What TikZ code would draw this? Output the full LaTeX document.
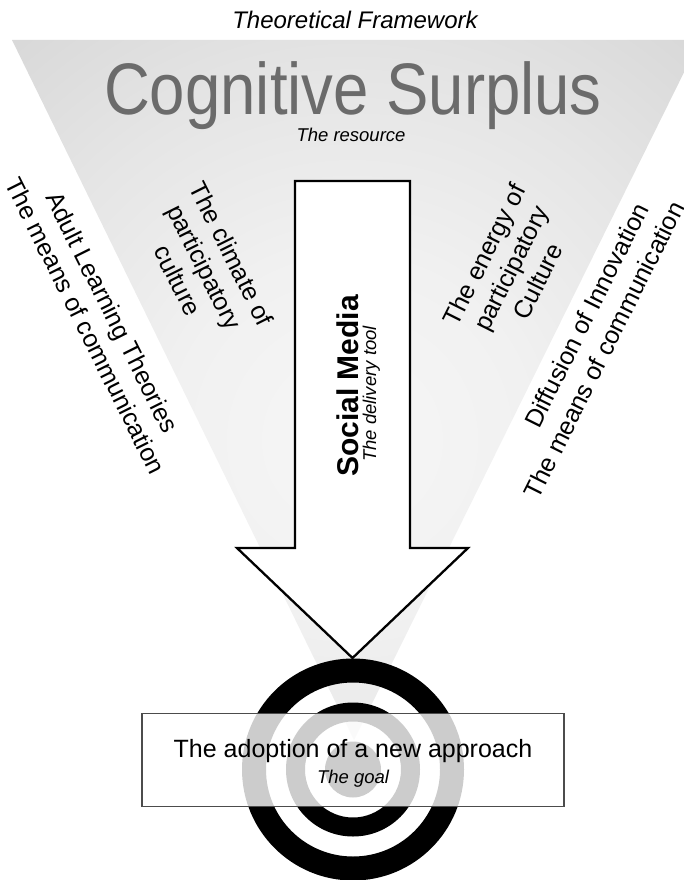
\documentclass[tikz,border=0pt]{standalone}
\usepackage{fontspec}
\setmainfont{Liberation Sans}
\definecolor{fs0}{gray}{0.965}
\definecolor{fs1}{gray}{0.945}
\definecolor{fs2}{gray}{0.90}
\definecolor{fs3}{gray}{0.845}
\definecolor{fs4}{gray}{0.79}
\definecolor{fs5}{gray}{0.75}
\definecolor{fs6}{gray}{0.71}
\definecolor{csgray}{RGB}{107,107,107}
\pgfdeclareradialshading{funnelshade}{\pgfpointorigin}{color(0bp)=(fs0); color(8bp)=(fs1); color(16bp)=(fs2); color(24bp)=(fs3); color(32bp)=(fs4); color(40bp)=(fs5); color(50bp)=(fs6)}
\begin{document}
\begin{tikzpicture}[x=1pt,y=-1pt,
  sidetext/.style={font=\fontsize{25}{30}\selectfont, align=center, inner sep=0pt},
  goalbox/.style={draw=black!70, line width=1.2pt, fill=white, fill opacity=0.8, minimum width=422pt, minimum height=93pt, inner sep=0pt},
  arrowshape/.style={draw=black, line width=2.3pt, fill=white, line join=miter},
  ring/.style={fill=black, even odd rule}]
\useasboundingbox (0,0) rectangle (684,880);
% funnel
\coordinate (ftl) at (12,40);
\coordinate (ftr) at (700,40);
\coordinate (apex) at (354,740);
\begin{scope}
  \clip (ftl) -- (ftr) -- (apex) -- cycle;
  \shade[shading=funnelshade] (352,440) circle[radius=560pt];
\end{scope}
% target
\coordinate (target) at (353,769.5);
\fill[ring] (target) circle[radius=111pt] circle[radius=87pt] circle[radius=67pt] circle[radius=48pt] circle[radius=28pt];
% goal box
\node[goalbox] (goal) at (353,760) {};
\node[anchor=base, font=\fontsize{25}{30}\selectfont, inner sep=0pt] (goaltext) at (353,757) {The adoption of a new approach};
\node[anchor=base, font=\fontsize{18.5}{22}\selectfont\itshape, inner sep=0pt] (goalsub) at (353,783) {The goal};
% arrow
\draw[arrowshape] (295,181) -- (410,181) -- (410,548) -- (468,548) -- (352.5,658) -- (237,548) -- (295,548) -- cycle;
\node[anchor=base, rotate=90, font=\fontsize{30}{36}\selectfont\bfseries, inner sep=0pt] (sm) at (358,386) {Social Media};
\node[anchor=base, rotate=90, font=\fontsize{18.5}{22}\selectfont\itshape, inner sep=0pt] (smsub) at (376,394) {The delivery tool};
% titles
\node[anchor=base, font=\fontsize{24}{29}\selectfont\itshape, inner sep=0pt] (tf) at (355,29) {Theoretical Framework};
\node[anchor=base, font=\fontsize{73}{80}\selectfont, text=csgray, xscale=0.87, inner sep=0pt] (cs) at (353,115) {Cognitive Surplus};
\node[anchor=base, font=\fontsize{18.5}{22}\selectfont\itshape, inner sep=0pt] (res) at (351,141) {The resource};
% side texts
\node[sidetext, rotate=-63.43] (alt) at (99,319) {Adult Learning Theories\\The means of communication};
\node[sidetext, rotate=-63.43] (clim) at (205,267) {The climate of\\participatory\\culture};
\node[sidetext, rotate=63.43] (ener) at (511,268) {The energy of\\participatory\\Culture};
\node[sidetext, rotate=63.43] (dif1) at (586.5,315) {Diffusion of Innovation};
\node[sidetext, rotate=63.43] (dif2) at (604,350) {The means of communication};
\end{tikzpicture}
\end{document}
